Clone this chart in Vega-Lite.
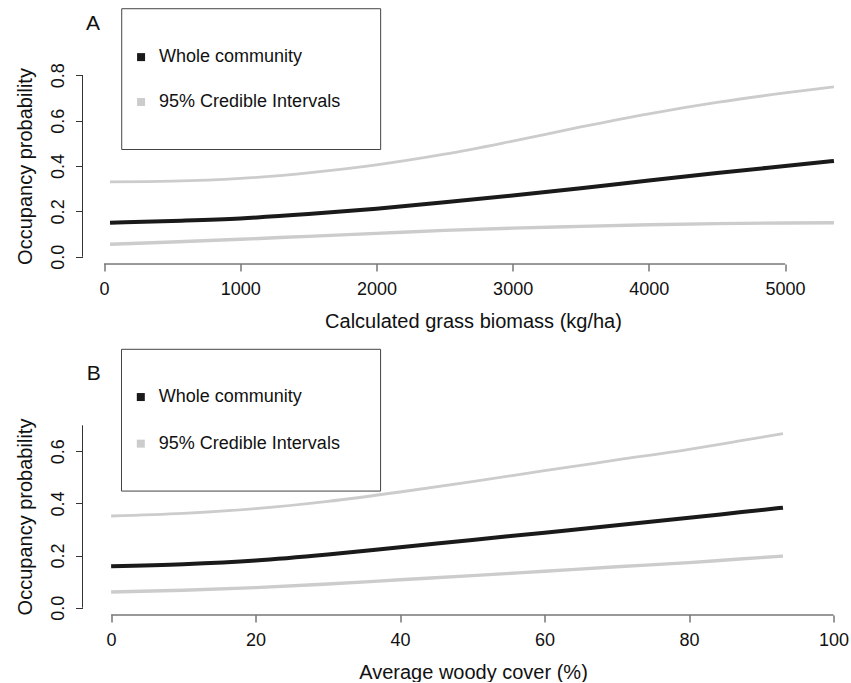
{
  "$schema": "https://vega.github.io/schema/vega-lite/v6.json",
  "padding": {"left": 15.5, "top": 8, "right": 0, "bottom": 0},
  "bounds": "flush",
  "spacing": 154,
  "config": {
    "view": {"stroke": null},
    "font": "Liberation Sans",
    "axis": {
      "grid": false,
      "domain": false,
      "tickSize": 7,
      "tickColor": "#333333",
      "tickWidth": 1,
      "labelFontSize": 18,
      "labelColor": "#111111",
      "titleFontSize": 20,
      "titleFontWeight": "normal",
      "titleColor": "#111111",
      "labelFlush": false,
      "labelOverlap": false
    },
    "axisX": {"labelPadding": 9, "titlePadding": 13},
    "axisY": {"labelAngle": -90, "labelAlign": "center", "labelBaseline": "alphabetic", "labelPadding": 12, "titlePadding": 14}
  },
  "datasets": {
    "grass": [
      {"biomass": 44, "mean": 0.150, "lower": 0.055, "upper": 0.330},
      {"biomass": 500, "mean": 0.158, "lower": 0.065, "upper": 0.333},
      {"biomass": 1000, "mean": 0.169, "lower": 0.077, "upper": 0.345},
      {"biomass": 1500, "mean": 0.188, "lower": 0.090, "upper": 0.370},
      {"biomass": 2000, "mean": 0.212, "lower": 0.103, "upper": 0.405},
      {"biomass": 2500, "mean": 0.240, "lower": 0.116, "upper": 0.452},
      {"biomass": 3000, "mean": 0.270, "lower": 0.126, "upper": 0.510},
      {"biomass": 3500, "mean": 0.302, "lower": 0.134, "upper": 0.572},
      {"biomass": 4000, "mean": 0.336, "lower": 0.141, "upper": 0.630},
      {"biomass": 4500, "mean": 0.369, "lower": 0.146, "upper": 0.680},
      {"biomass": 5000, "mean": 0.400, "lower": 0.149, "upper": 0.722},
      {"biomass": 5359, "mean": 0.422, "lower": 0.150, "upper": 0.749}
    ],
    "woody": [
      {"cover": 0, "mean": 0.159, "lower": 0.060, "upper": 0.352},
      {"cover": 10, "mean": 0.167, "lower": 0.067, "upper": 0.362},
      {"cover": 20, "mean": 0.181, "lower": 0.077, "upper": 0.380},
      {"cover": 30, "mean": 0.204, "lower": 0.091, "upper": 0.408},
      {"cover": 40, "mean": 0.232, "lower": 0.107, "upper": 0.444},
      {"cover": 50, "mean": 0.260, "lower": 0.123, "upper": 0.484},
      {"cover": 60, "mean": 0.288, "lower": 0.140, "upper": 0.526},
      {"cover": 70, "mean": 0.316, "lower": 0.157, "upper": 0.567},
      {"cover": 80, "mean": 0.345, "lower": 0.173, "upper": 0.608},
      {"cover": 87, "mean": 0.366, "lower": 0.187, "upper": 0.640},
      {"cover": 93, "mean": 0.384, "lower": 0.198, "upper": 0.668}
    ],
    "one": [{"item": "frame"}]
  },
  "vconcat": [
    {
      "width": 781,
      "height": 196,
      "layer": [
        {
          "data": {"name": "grass"},
          "transform": [{"fold": ["lower", "upper", "mean"], "as": ["bound", "prob"]}],
          "mark": {"type": "line", "strokeCap": "butt", "interpolate": "monotone"},
          "encoding": {
            "x": {"field": "biomass", "type": "quantitative", "scale": {"domain": [-158, 5576], "nice": false, "zero": false},
                  "axis": {"values": [0, 1000, 2000, 3000, 4000, 5000], "format": "d", "title": "Calculated grass biomass (kg/ha)"}},
            "y": {"field": "prob", "type": "quantitative", "scale": {"domain": [-0.032, 0.832], "nice": false, "zero": false},
                  "axis": {"values": [0, 0.2, 0.4, 0.6, 0.8], "format": ".1f", "title": "Occupancy probability"}},
            "color": {"field": "bound", "type": "nominal", "scale": {"domain": ["mean", "lower", "upper"], "range": ["#1a1a1a", "#cccccc", "#cccccc"]}, "legend": null},
            "strokeWidth": {"field": "bound", "type": "nominal", "scale": {"domain": ["mean", "lower", "upper"], "range": [4, 2.8, 2.8]}, "legend": null},
            "order": {"field": "biomass", "type": "quantitative"}
          }
        },
        {
          "data": {"name": "one"},
          "mark": {"type": "rule", "color": "#333333", "strokeWidth": 1},
          "encoding": {"x": {"datum": 0}, "x2": {"datum": 5000}, "y": {"datum": -0.032}}
        },
        {
          "data": {"name": "one"},
          "mark": {"type": "rule", "color": "#333333", "strokeWidth": 1},
          "encoding": {"x": {"datum": -158}, "y": {"datum": 0}, "y2": {"datum": 0.8}}
        },
        {
          "data": {"name": "one"},
          "mark": {"type": "rect", "fill": "transparent", "stroke": "#444444", "strokeWidth": 1},
          "encoding": {"x": {"datum": 130}, "x2": {"datum": 2031}, "y": {"datum": 0.4727}, "y2": {"datum": 1.0933}}
        },
        {
          "data": {"values": [{"label": "Whole community"}]},
          "mark": {"type": "point", "shape": "square", "filled": true, "size": 64, "color": "#1a1a1a", "opacity": 1},
          "encoding": {"x": {"datum": 272}, "y": {"datum": 0.880}}
        },
        {
          "data": {"values": [{"label": "95% Credible Intervals"}]},
          "mark": {"type": "point", "shape": "square", "filled": true, "size": 64, "color": "#cccccc", "opacity": 1},
          "encoding": {"x": {"datum": 272}, "y": {"datum": 0.682}}
        },
        {
          "data": {"values": [{"label": "Whole community"}]},
          "mark": {"type": "text", "align": "left", "baseline": "middle", "fontSize": 18, "color": "#111111"},
          "encoding": {"x": {"datum": 404}, "y": {"datum": 0.880}, "text": {"field": "label"}}
        },
        {
          "data": {"values": [{"label": "95% Credible Intervals"}]},
          "mark": {"type": "text", "align": "left", "baseline": "middle", "fontSize": 18, "color": "#111111"},
          "encoding": {"x": {"datum": 404}, "y": {"datum": 0.682}, "text": {"field": "label"}}
        },
        {
          "data": {"values": [{"label": "A"}]},
          "mark": {"type": "text", "align": "center", "baseline": "middle", "fontSize": 21, "color": "#111111"},
          "encoding": {"x": {"datum": -81}, "y": {"datum": 1.024}, "text": {"field": "label"}}
        }
      ]
    },
    {
      "width": 781,
      "height": 197,
      "layer": [
        {
          "data": {"name": "woody"},
          "transform": [{"fold": ["lower", "upper", "mean"], "as": ["bound", "prob"]}],
          "mark": {"type": "line", "strokeCap": "butt", "interpolate": "monotone"},
          "encoding": {
            "x": {"field": "cover", "type": "quantitative", "scale": {"domain": [-3.96, 104.15], "nice": false, "zero": false},
                  "axis": {"values": [0, 20, 40, 60, 80, 100], "format": "d", "title": "Average woody cover (%)"}},
            "y": {"field": "prob", "type": "quantitative", "scale": {"domain": [-0.028, 0.728], "nice": false, "zero": false},
                  "axis": {"values": [0, 0.1, 0.2, 0.3, 0.4, 0.5, 0.6, 0.7], "labelExpr": "round(datum.value * 10) % 2 == 0 ? format(datum.value, '.1f') : ''", "title": "Occupancy probability"}},
            "color": {"field": "bound", "type": "nominal", "scale": {"domain": ["mean", "lower", "upper"], "range": ["#1a1a1a", "#cccccc", "#cccccc"]}, "legend": null},
            "strokeWidth": {"field": "bound", "type": "nominal", "scale": {"domain": ["mean", "lower", "upper"], "range": [4, 2.8, 2.8]}, "legend": null},
            "order": {"field": "cover", "type": "quantitative"}
          }
        },
        {
          "data": {"name": "one"},
          "mark": {"type": "rule", "color": "#333333", "strokeWidth": 1},
          "encoding": {"x": {"datum": 0}, "x2": {"datum": 100}, "y": {"datum": -0.028}}
        },
        {
          "data": {"name": "one"},
          "mark": {"type": "rule", "color": "#333333", "strokeWidth": 1},
          "encoding": {"x": {"datum": -3.96}, "y": {"datum": 0}, "y2": {"datum": 0.7}}
        },
        {
          "data": {"name": "one"},
          "mark": {"type": "rect", "fill": "transparent", "stroke": "#444444", "strokeWidth": 1},
          "encoding": {"x": {"datum": 1.44}, "x2": {"datum": 37.3}, "y": {"datum": 0.4476}, "y2": {"datum": 0.9916}}
        },
        {
          "data": {"values": [{"label": "Whole community"}]},
          "mark": {"type": "point", "shape": "square", "filled": true, "size": 64, "color": "#1a1a1a", "opacity": 1},
          "encoding": {"x": {"datum": 4.11}, "y": {"datum": 0.8084}}
        },
        {
          "data": {"values": [{"label": "95% Credible Intervals"}]},
          "mark": {"type": "point", "shape": "square", "filled": true, "size": 64, "color": "#cccccc", "opacity": 1},
          "encoding": {"x": {"datum": 4.11}, "y": {"datum": 0.6296}}
        },
        {
          "data": {"values": [{"label": "Whole community"}]},
          "mark": {"type": "text", "align": "left", "baseline": "middle", "fontSize": 18, "color": "#111111"},
          "encoding": {"x": {"datum": 6.6}, "y": {"datum": 0.8084}, "text": {"field": "label"}}
        },
        {
          "data": {"values": [{"label": "95% Credible Intervals"}]},
          "mark": {"type": "text", "align": "left", "baseline": "middle", "fontSize": 18, "color": "#111111"},
          "encoding": {"x": {"datum": 6.6}, "y": {"datum": 0.6296}, "text": {"field": "label"}}
        },
        {
          "data": {"values": [{"label": "B"}]},
          "mark": {"type": "text", "align": "center", "baseline": "middle", "fontSize": 21, "color": "#111111"},
          "encoding": {"x": {"datum": -2.39}, "y": {"datum": 0.8956}, "text": {"field": "label"}}
        }
      ]
    }
  ]
}
